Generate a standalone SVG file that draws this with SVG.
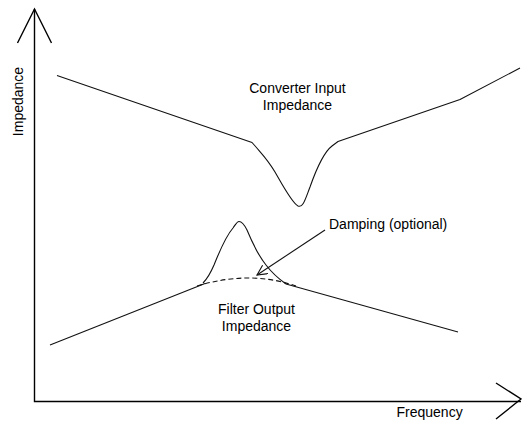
<svg xmlns="http://www.w3.org/2000/svg" width="522" height="421" viewBox="0 0 522 421">
<style>
.ax{fill:none;stroke:#000;stroke-width:1.4}
.ln{fill:none;stroke:#111;stroke-width:1.1;stroke-linejoin:round}
.ds{fill:none;stroke:#111;stroke-width:1.1;stroke-dasharray:5,3}
text{font-family:"Liberation Sans",Arial,sans-serif;font-size:14px;fill:#000}
</style>
<defs>
<marker id="ah" markerWidth="12" markerHeight="12" refX="10" refY="5" orient="auto" markerUnits="userSpaceOnUse">
<path d="M0,0 L10,5 L0,10" fill="none" stroke="#111" stroke-width="1.1"/>
</marker>
</defs>
<rect width="522" height="421" fill="#fff"/>
<g id="axes">
<path class="ax" d="M34.5,9 L34.5,401.5 L521,401.5"/>
<path class="ax" d="M17.5,43 L34.5,9 L51.5,43"/>
<path class="ax" d="M496,383 L521,399 L496,419"/>
<text x="22.5" y="101.5" text-anchor="middle" transform="rotate(-90 22.5 101.5)">Impedance</text>
<text x="396.5" y="417">Frequency</text>
</g>
<g id="converter">
<path class="ln" d="M57,75.5 L252,142.5 L256,147 C262,154 268,160 275,172 C283,186 292,203 298,206 C303,208 305,200 310,187 C316,170 324,152 332,146 L338,141.5 L460,99.5 L520,68"/>
<text x="297.5" y="93" text-anchor="middle">Converter Input</text>
<text x="297.5" y="110" text-anchor="middle">Impedance</text>
</g>
<g id="filter">
<path class="ln" d="M50,345 L205,283.5"/>
<path class="ln" d="M286,284 L458,332"/>
<path class="ds" d="M197,286 Q250,270 296,286"/>
<path class="ln" d="M203,283 C208,278 211,272 214,265 C220,250 226,236 233,228 C236,224 237,221.5 239,221.5 C242,221.5 244,224 247,230 C252,242 258,255 266,265 C272,273 279,279 286,284"/>
<text x="256.5" y="314" text-anchor="middle">Filter Output</text>
<text x="256.5" y="331" text-anchor="middle">Impedance</text>
</g>
<g id="connectors">
<path class="ln" d="M325,230 L257,275" marker-end="url(#ah)"/>
</g>
<g id="damping">
<text x="329" y="229">Damping (optional)</text>
</g>
</svg>
